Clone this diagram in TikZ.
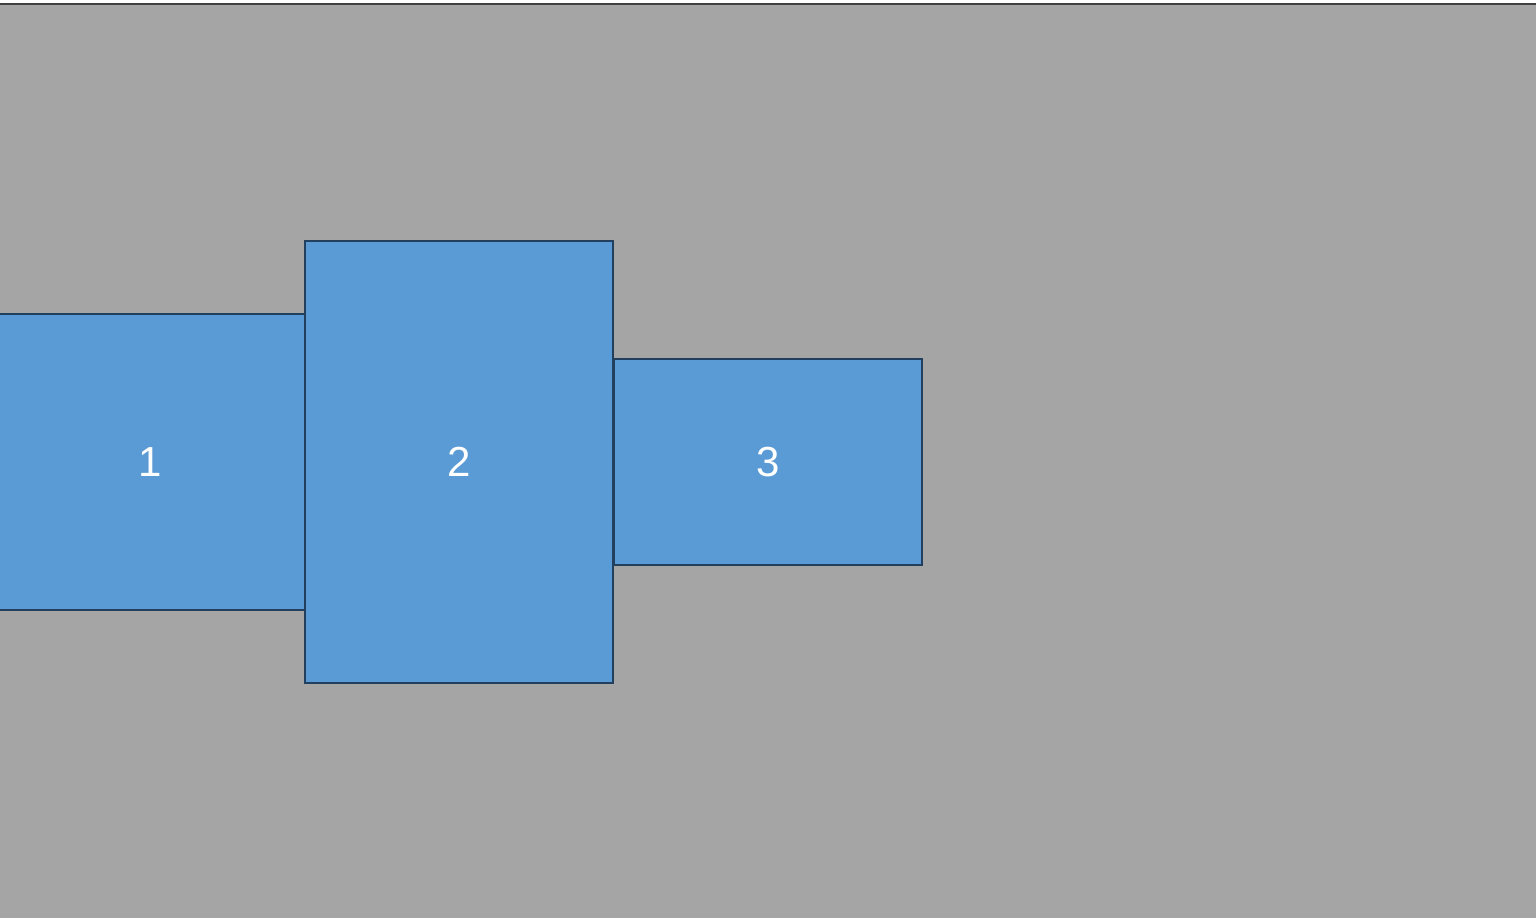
\documentclass[tikz,border=0pt]{standalone}
\usepackage{fontspec}
\setmainfont{Liberation Sans}
\usetikzlibrary{positioning}
\definecolor{slideGray}{HTML}{A5A5A5}
\definecolor{blockBlue}{HTML}{5B9BD5}
\definecolor{blockEdge}{HTML}{223F5E}
\definecolor{topRule}{HTML}{404040}

\begin{document}
\begin{tikzpicture}[x=0.5pt, y=0.5pt,
    block/.style={draw=blockEdge, line width=1pt, fill=blockBlue, text=white,
        font=\fontsize{21}{24}\selectfont, inner sep=0pt, outer sep=0pt}]
        \useasboundingbox (0,0) rectangle (1536,918);
        \clip (0,0) rectangle (1536,918);
        \fill[white] (0,0) rectangle (1536,918);
        \fill[slideGray] (0,0) rectangle (1536,914);
        \draw[topRule, line width=1pt] (0,914) -- (1536,914);
        % blocks
        \node[block, minimum width=310*0.5pt, minimum height=296*0.5pt, anchor=east] (b1) at (305,456) {1};
        \node[block, minimum width=308*0.5pt, minimum height=442*0.5pt, right=0pt of b1] (b2) {2};
        \node[block, minimum width=308*0.5pt, minimum height=206*0.5pt, right=0.5pt of b2] (b3) {3};
    \end{tikzpicture}
\end{document}
